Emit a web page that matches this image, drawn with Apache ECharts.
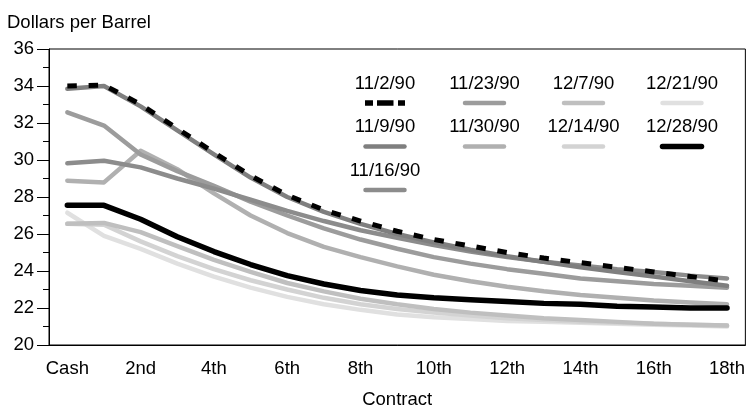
<!DOCTYPE html>
<html><head><meta charset="utf-8">
<script src="https://cdn.jsdelivr.net/npm/echarts/dist/echarts.min.js"></script>
<style>html,body{margin:0;padding:0;background:#fff}#c{width:748px;height:417px}</style>
</head><body><div id="c"></div>
<script>
const categories = ['Cash','1st','2nd','3rd','4th','5th','6th','7th','8th','9th','10th','11th','12th','13th','14th','15th','16th','17th','18th'];
const yTicks = { min: 20, max: 36, step: 2 };
const seriesNames = ['11/2/90','11/9/90','11/16/90','11/23/90','11/30/90','12/7/90','12/14/90','12/21/90','12/28/90'];
const seriesColors = ['#000000','#7f7f7f','#8c8c8c','#9c9c9c','#b0b0b0','#bfbfbf','#d3d3d3','#e0e0e0','#000000'];

const d1102 = [34.0,34.05,33.0,31.7,30.4,29.15,28.1,27.3,26.7,26.15,25.7,25.35,25.0,24.7,24.45,24.2,23.95,23.7,23.45];
const d1109 = [33.85,34.0,32.9,31.6,30.3,29.05,28.0,27.2,26.55,26.0,25.55,25.15,24.8,24.5,24.2,23.95,23.7,23.45,23.2];
const d1116 = [29.82,29.96,29.6,29.0,28.45,27.85,27.25,26.7,26.2,25.8,25.4,25.05,24.75,24.5,24.3,24.1,23.95,23.75,23.6];
const d1123 = [32.58,31.86,30.3,29.4,28.6,27.75,27.0,26.3,25.7,25.2,24.75,24.4,24.1,23.85,23.6,23.45,23.3,23.2,23.1];
const d1130 = [28.88,28.79,30.5,29.5,28.2,27.0,26.05,25.3,24.75,24.25,23.8,23.45,23.15,22.9,22.7,22.55,22.4,22.3,22.2];
const d1207 = [26.55,26.6,26.1,25.35,24.6,23.95,23.35,22.9,22.5,22.2,21.95,21.75,21.6,21.45,21.35,21.25,21.15,21.1,21.05];
const d1214 = [26.55,26.5,25.6,24.8,24.1,23.5,23.0,22.55,22.2,21.95,21.75,21.6,21.45,21.35,21.25,21.2,21.15,21.1,21.05];
const d1221 = [27.15,25.9,25.2,24.4,23.7,23.1,22.6,22.2,21.9,21.65,21.5,21.4,21.3,21.25,21.2,21.15,21.1,21.05,21.0];
const d1228 = [27.55,27.55,26.8,25.85,25.05,24.35,23.75,23.3,22.95,22.7,22.55,22.45,22.35,22.25,22.2,22.1,22.05,22.0,22.0];
const seriesData = [d1102,d1109,d1116,d1123,d1130,d1207,d1214,d1221,d1228];

const FONT = 'Liberation Sans';
const FS = 18.5;
// legend layout: [column, row]
const legendCells = [[0,0],[0,1],[0,2],[1,0],[1,1],[2,0],[2,1],[3,0],[3,1]];
const legendColX = [385, 484.5, 583.5, 682];
const legendRowY = [83.5, 127, 170.5];

const drawOrder = [7,6,5,4,3,2,1,8,0];
const series = drawOrder.map(function(i){
  const isDash = i === 0;
  const isBlack = i === 8;
  return {
    name: seriesNames[i], type: 'line', data: seriesData[i], symbol: 'none', silent: true,
    z: 2,
    lineStyle: {
      color: seriesColors[i],
      width: isDash ? 5 : (isBlack ? 5.5 : 4.5),
      type: isDash ? [9.5, 11.8] : 'solid',
      cap: isDash ? 'butt' : 'round', join: 'round'
    }
  };
});

const graphic = [];
seriesNames.forEach(function(n, i){
  const cx = legendColX[legendCells[i][0]];
  const ty = legendRowY[legendCells[i][1]];
  graphic.push({ type: 'text', x: cx, y: ty, style: { text: n, font: FS + 'px "' + FONT + '"', fill: '#000', textAlign: 'center', textVerticalAlign: 'middle' } });
  if (i === 0) {
    graphic.push({ type: 'line', shape: { x1: cx - 20, y1: ty + 19.5, x2: cx + 20, y2: ty + 19.5 }, style: { stroke: seriesColors[i], lineWidth: 5.5, lineDash: [8,4,16.5,4.5], lineCap: 'butt' } });
  } else {
    graphic.push({ type: 'line', shape: { x1: cx - 19.5, y1: ty + 19.5, x2: cx + 19.5, y2: ty + 19.5 }, style: { stroke: seriesColors[i], lineWidth: i === 8 ? 5.5 : 4.5, lineCap: 'round' } });
  }
});

const chart = echarts.init(document.getElementById('c'), null, { renderer: 'canvas' });
chart.setOption({
  animation: false,
  backgroundColor: '#fff',
  title: { text: 'Dollars per Barrel', left: 2, top: 8, textStyle: { fontFamily: FONT, fontSize: FS, fontWeight: 'normal', color: '#000' } },
  grid: { left: 49, right: 1, top: 49, bottom: 72, show: true, borderColor: '#000', borderWidth: 1, backgroundColor: 'transparent' },
  xAxis: {
    type: 'category', data: categories, boundaryGap: true,
    name: 'Contract', nameLocation: 'middle', nameGap: 45,
    nameTextStyle: { fontFamily: FONT, fontSize: FS, color: '#000' },
    axisLine: { lineStyle: { color: '#000', width: 1 } },
    axisTick: { alignWithLabel: true, interval: 0, length: 8, lineStyle: { color: '#000' } },
    axisLabel: { interval: 1, margin: 14, fontFamily: FONT, fontSize: FS, color: '#000' },
    splitLine: { show: false }
  },
  yAxis: {
    type: 'value', min: yTicks.min, max: yTicks.max, interval: yTicks.step,
    axisLine: { show: true, lineStyle: { color: '#000', width: 1 } },
    axisTick: { show: true, length: 12, lineStyle: { color: '#000' } },
    minorTick: { show: true, splitNumber: 2, length: 6, lineStyle: { color: '#000' } },
    axisLabel: { margin: 15, fontFamily: FONT, fontSize: FS, color: '#000' },
    splitLine: { show: false }
  },
  series: series,
  graphic: graphic
});
</script>
</body></html>
